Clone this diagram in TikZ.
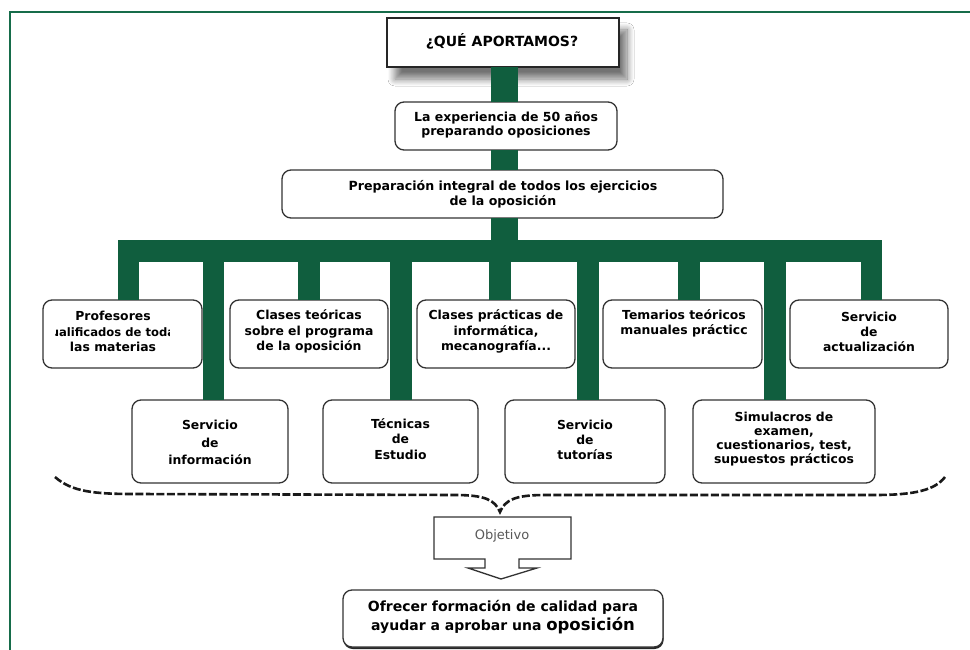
\documentclass[tikz,border=0pt]{standalone}
\usepackage{fontspec}
\setmainfont{DejaVu Sans}
\usetikzlibrary{shadows,shadows.blur,calc}
\definecolor{dgreen}{RGB}{16,94,62}
\definecolor{fgreen}{RGB}{22,108,74}
\begin{document}
\begin{tikzpicture}[x=1pt,y=-1pt,
  box/.style={draw=black!80, line width=1.3pt, rounded corners=9pt, fill=white, inner sep=0pt, outer sep=0pt},
  titlebox/.style={draw=black!85, line width=1.3pt, fill=white, inner sep=0pt, outer sep=0pt,
    blur shadow={shadow xshift=8pt, shadow yshift=-12pt, shadow blur radius=7pt, shadow blur steps=12, shadow opacity=55}},
  txt/.style={align=center, inner sep=0pt, font=\fontsize{12.4}{15.5}\selectfont\bfseries},
  bar/.style={draw=dgreen, line width=22pt},
  trunk/.style={draw=dgreen, line width=27pt},
  branch/.style={draw=dgreen, line width=21.5pt},
  brace/.style={draw=black!90, line width=2.6pt, dash pattern=on 8pt off 2.5pt},
  callout/.style={draw=black!80, line width=1.3pt, fill=white},
  frame/.style={draw=fgreen, line width=2.6pt}]
\useasboundingbox (0,0) rectangle (970,650);
\fill[white] (0,0) rectangle (970,650);
% frame
\coordinate (fa) at (10,652);
\coordinate (fb) at (10,12);
\coordinate (fc) at (972,12);
\draw[frame] (fa) -- (fb) -- (fc);

% top chain
\node[titlebox, minimum width=232pt, minimum height=49pt] (title) at (503,42.5) {};
\node[txt, font=\fontsize{14}{16}\selectfont\bfseries] (titlet) at (502,41) {¿QUÉ APORTAMOS?};
\node[box, minimum width=222pt, minimum height=48pt] (exp) at (506,126) {};
\node[txt, font=\fontsize{12.5}{14}\selectfont\bfseries] (expt) at (506,125) {La experiencia de 50 años\\preparando oposiciones};
\node[box, minimum width=441pt, minimum height=48pt] (prep) at (502.5,194) {};
\node[txt, font=\fontsize{12.6}{15}\selectfont\bfseries] (prept) at (503,194.5) {Preparación integral de todos los ejercicios\\de la oposición};

% top row boxes
\node[box, minimum width=159pt, minimum height=68pt] (prof) at (122.5,334) {};
\node[box, minimum width=158pt, minimum height=68pt] (clt) at (309,334) {};
\node[box, minimum width=158pt, minimum height=68pt] (clp) at (496,334) {};
\node[box, minimum width=159pt, minimum height=68pt] (tem) at (682.5,334) {};
\node[box, minimum width=158pt, minimum height=68pt] (act) at (869,334) {};
% bottom row boxes
\node[box, minimum width=156pt, minimum height=83pt] (inf) at (210,441.5) {};
\node[box, minimum width=155pt, minimum height=83pt] (tec) at (400.5,441.5) {};
\node[box, minimum width=160pt, minimum height=83pt] (tut) at (585,441.5) {};
\node[box, minimum width=182pt, minimum height=83pt] (sim) at (784,441.5) {};

% texts
\begin{scope}
\clip (55,300) rectangle (169,368);
\node[txt, font=\fontsize{12.4}{15.5}\selectfont\bfseries] (proft) at (113,331.5) {Profesores\\{\fontsize{11.6}{15.5}\selectfont cualificados de todas}\\las materias};
\end{scope}
\node[txt] (cltt) at (309,331.5) {Clases teóricas\\sobre el programa\\de la oposición};
\node[txt] (clpt) at (496,331.5) {Clases prácticas de\\informática,\\mecanografía...};
\node[txt] (temt) at (684,323.5) {Temarios teóricos\\manuales prácticc};
\node[txt, font=\fontsize{12.4}{15}\selectfont\bfseries] (actt) at (869,332) {Servicio\\de\\actualización};
\node[txt, font=\fontsize{12.4}{17.5}\selectfont\bfseries] (inft) at (210,442.5) {Servicio\\de\\información};
\node[txt] (tect) at (400.5,439) {Técnicas\\de\\Estudio};
\node[txt, font=\fontsize{12.4}{15}\selectfont\bfseries] (tutt) at (585,440) {Servicio\\de\\tutorías};
\node[txt, font=\fontsize{12.4}{14}\selectfont\bfseries] (simt) at (784,439) {Simulacros de\\examen,\\cuestionarios, test,\\supuestos prácticos};

% green connectors
\coordinate (tx) at (504,0);
\coordinate (hl) at (118,251);
\coordinate (hr) at (882,251);
\coordinate (hm) at (504,251);
\draw[trunk] (title.south -| tx) -- (exp.north -| tx);
\draw[trunk] (exp.south -| tx) -- (prep.north -| tx);
\draw[trunk] (prep.south -| tx) -- (hm);
\draw[bar] (hl) -- (hr);
\coordinate (b1) at (128.5,251);
\coordinate (b2) at (213.5,251);
\coordinate (b3) at (309,251);
\coordinate (b4) at (401,251);
\coordinate (b5) at (500,251);
\coordinate (b6) at (588,251);
\coordinate (b7) at (689,251);
\coordinate (b8) at (775,251);
\coordinate (b9) at (871.25,251);
\draw[branch] (b1) -- (b1 |- prof.north);
\draw[branch] (b2) -- (b2 |- inf.north);
\draw[branch] (b3) -- (b3 |- clt.north);
\draw[branch] (b4) -- (b4 |- tec.north);
\draw[branch] (b5) -- (b5 |- clp.north);
\draw[branch] (b6) -- (b6 |- tut.north);
\draw[branch] (b7) -- (b7 |- tem.north);
\draw[branch] (b8) -- (b8 |- sim.north);
\draw[branch] (b9) -- (b9 |- act.north);

% brace
\coordinate (bl) at (55,477);
\coordinate (bm) at (500,512);
\coordinate (br) at (945,477);
\draw[brace] (bl) .. controls (72,492) and (95,494) .. (135,494) -- (455,495)
  .. controls (485,495) and (495,500) .. (bm)
  .. controls (505,500) and (515,495) .. (545,495) -- (875,495)
  .. controls (915,495) and (935,490) .. (br);

% objetivo callout
\node[inner sep=0pt, outer sep=0pt, minimum width=137pt, minimum height=42pt] (obj) at (502.5,538) {};
\draw[callout] (obj.north west) -- (obj.north east) -- (obj.south east)
  -- ($(obj.south)+(16.5,0)$) -- ++(0,9) -- ++(18,0) -- ($(obj.south)+(-1.5,20)$)
  -- ($(obj.south)+(-34.5,9)$) -- ++(17,0) -- ($(obj.south)+(-17.5,0)$)
  -- (obj.south west) -- cycle;
\node[inner sep=0pt, text=black!65, font=\fontsize{13}{15}\selectfont] (objt) at (502,536) {Objetivo};

% final box
\node[box, minimum width=320pt, minimum height=57pt,
  drop shadow={shadow xshift=0.6pt, shadow yshift=-2pt, fill=black!85, opacity=1}] (fin) at (503,618.5) {};
\node[txt, font=\fontsize{14}{19}\selectfont\bfseries] (fint) at (503,617.5) {Ofrecer formación de calidad para\\ayudar a aprobar una {\fontsize{16.5}{19}\selectfont oposición}};
\end{tikzpicture}
\end{document}
